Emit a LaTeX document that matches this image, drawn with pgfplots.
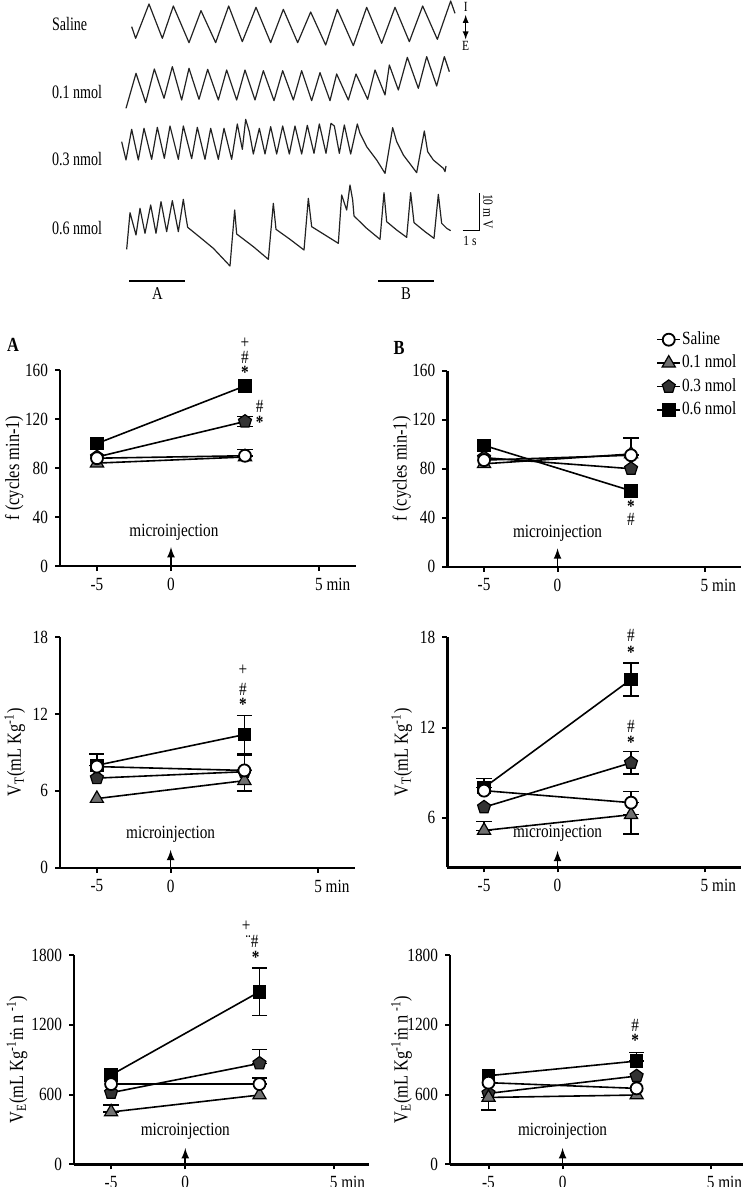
\documentclass[border=0pt]{standalone}
\usepackage{fontspec}
\setmainfont{Liberation Serif}[FakeStretch=0.82]
\usepackage{pgfplots}
\pgfplotsset{compat=1.18}

\definecolor{tri}{HTML}{707070}
\definecolor{pent}{HTML}{333333}
\definecolor{trace}{HTML}{222222}

\pgfplotsset{
  panel/.style={
    scale only axis, anchor=south west, clip=false,
    axis lines*=left,
    axis line style={line width=1.2pt},
    tick align=outside, major tick length=2.5pt,
    tick style={line width=1pt, black},
    xtick={-5,0,10}, xticklabels={-5,0,{5\rlap{\ min}}},
    xmin=-7.5, xmax=12.5,
    tick label style={font=\fontsize{9.3}{10}\selectfont},
    label style={font=\fontsize{9.3}{10}\selectfont},
    every axis plot/.append style={line width=0.8pt, black},
    error bars/error bar style={line width=0.8pt, black},
    error bars/error mark options={rotate=90, mark size=3.8pt, line width=0.8pt, black},
  },
  ylab/.style={every axis y label/.style={at={(axis description cs:#1,0.5)}, rotate=90, anchor=center}},
  sal/.style={mark=*, mark size=3pt, mark options={fill=white, draw=black, line width=0.9pt}},
  d01/.style={mark=triangle*, mark size=3.8pt, mark options={fill=tri, draw=black, line width=0.6pt}},
  d03/.style={mark=pentagon*, mark size=3.4pt, mark options={fill=pent, draw=black, line width=0.6pt}},
  d06/.style={mark=square*, mark size=3pt, mark options={fill=black, draw=black}},
  eb/.style={error bars/.cd, y dir=both, y explicit},
  tr/.style={trace, line width=0.6pt, no marks, line join=round},
}
\newcommand{\ann}{\fontsize{9.3}{10}\selectfont}

\begin{document}
\begin{tikzpicture}
\path[use as bounding box] (0,0) rectangle (374.5pt,-593.5pt);

% ---- respiratory traces (coordinates in 3x pixel units, y down)
\begin{axis}[at={(0pt,0pt)}, anchor=north west, scale only axis,
  width=374.5pt, height=150pt, xmin=0, xmax=2247, ymin=0, ymax=900,
  y dir=reverse, hide axis, clip=false]
\addplot[tr] coordinates {(395,80) (407,115) (447,12) (487,115) (520,18) (567,128) (603,32) (647,128) (686,18) (727,125) (768,22) (812,128) (850,28) (893,128) (932,36) (977,135) (1012,28) (1060,137) (1100,22) (1145,130) (1185,22) (1228,125) (1268,18) (1312,118) (1352,3) (1365,40)};
\addplot[tr] coordinates {(378,325) (408,220) (437,308) (463,207) (492,295) (517,200) (545,300) (567,205) (597,298) (623,208) (655,300) (680,210) (710,300) (735,210) (765,300) (790,212) (822,302) (848,212) (880,300) (905,212) (935,302) (960,218) (990,302) (1010,222) (1045,300) (1068,222) (1103,298) (1125,210) (1155,285) (1168,195) (1195,270) (1222,172) (1255,265) (1280,170) (1310,258) (1333,170) (1348,215)};
\addplot[tr] coordinates {(365,425) (378,480) (395,388) (415,480) (432,385) (455,478) (472,382) (493,475) (510,378) (535,478) (550,378) (575,476) (592,382) (615,478) (632,385) (655,478) (672,385) (695,478) (712,372) (727,448) (737,358) (748,395) (760,462) (778,385) (795,462) (812,380) (830,462) (848,378) (868,462) (885,378) (905,462) (922,376) (942,460) (958,372) (978,460) (993,370) (1003,378) (1018,460) (1033,375) (1052,462) (1072,372) (1080,400) (1100,440) (1130,480) (1155,520) (1178,383) (1190,425) (1210,465) (1250,518) (1273,393) (1283,455) (1300,480) (1330,505) (1335,515) (1338,498)};
\addplot[tr] coordinates {(380,748) (390,638) (408,705) (420,625) (435,700) (452,615) (468,700) (483,605) (500,695) (517,602) (535,695) (550,598) (556,640) (563,682) (600,712) (640,745) (690,798) (704,630) (710,702) (760,740) (805,778) (820,610) (828,688) (870,718) (912,750) (925,595) (935,680) (975,705) (1015,730) (1025,585) (1040,630) (1050,555) (1058,600) (1062,648) (1100,685) (1140,718) (1152,578) (1160,665) (1190,690) (1220,712) (1232,578) (1242,668) (1275,695) (1302,715) (1315,583) (1325,670) (1340,685) (1352,692)};
% scale bar and period bars
\addplot[black, line width=0.7pt, no marks] coordinates {(1388,692) (1438,692) (1438,580)};
\addplot[black, line width=1pt, no marks] coordinates {(388,842) (555,842)};
\addplot[black, line width=1pt, no marks] coordinates {(1135,842) (1302,842)};
\node[anchor=west, inner sep=0pt, font=\fontsize{9.5}{11}\selectfont\addfontfeature{FakeStretch=0.74}] at (axis cs:155,72) {Saline};
\node[anchor=west, inner sep=0pt, font=\fontsize{9.5}{11}\selectfont\addfontfeature{FakeStretch=0.74}] at (axis cs:155,275) {0.1 nmol};
\node[anchor=west, inner sep=0pt, font=\fontsize{9.5}{11}\selectfont\addfontfeature{FakeStretch=0.74}] at (axis cs:155,478) {0.3 nmol};
\node[anchor=west, inner sep=0pt, font=\fontsize{9.5}{11}\selectfont\addfontfeature{FakeStretch=0.74}] at (axis cs:155,683) {0.6 nmol};
\node[rotate=-90, anchor=south west, inner sep=1pt, font=\fontsize{7}{8}\selectfont] at (axis cs:1442,575) {10 m V};
\node[font=\fontsize{7}{8}\selectfont] at (axis cs:1410,722) {1 s};
\node[font=\fontsize{7}{8}\selectfont] at (axis cs:1397,22) {I};
\node[font=\fontsize{7}{8}\selectfont] at (axis cs:1397,138) {E};
\draw[latex-latex, line width=0.4pt] (axis cs:1397,45) -- (axis cs:1397,118);
\node[font=\fontsize{9}{10}\selectfont] at (axis cs:472,880) {A};
\node[font=\fontsize{9}{10}\selectfont] at (axis cs:1218,882) {B};
\end{axis}

\node[font=\fontsize{10}{11}\selectfont\bfseries] at (6.5pt,-172.5pt) {A};
\node[font=\fontsize{10}{11}\selectfont\bfseries] at (199.5pt,-174pt) {B};

% ---- A: frequency
\begin{axis}[panel, at={(30pt,-283pt)}, width=148pt, height=98pt,
  ymin=0, ymax=160, ytick={0,40,80,120,160}, yticklabels={0,40,80,120,160},
  ylab=-0.155, ylabel={f (cycles min-1)}]
\addplot[d06, eb] coordinates {(-5,100) (5,147)};
\addplot[d03, eb] coordinates {(-5,89) (5,118) +- (0,4)};
\addplot[d01, eb] coordinates {(-5,84) (5,89)};
\addplot[sal, eb] coordinates {(-5,88) (5,90) += (0,5) -= (0,0)};
\node[font=\ann] at (axis cs:5,182) {+};
\node[font=\ann] at (axis cs:5,170.5) {\#};
\node[font=\ann\bfseries] at (axis cs:5,158) {*};
\node[font=\ann] at (axis cs:6,130) {\#};
\node[font=\ann\bfseries] at (axis cs:6,117.5) {*};
\node[font=\ann] at (axis cs:0.2,27.8) {microinjection};
\draw[-latex, line width=0.8pt] (axis cs:0,0) -- (axis cs:0,15.5);
\end{axis}

% ---- B: frequency
\begin{axis}[panel, at={(223.65pt,-283.35pt)}, width=147pt, height=98pt,
  ymin=0, ymax=160, ytick={0,40,80,120,160}, yticklabels={0,40,80,120,160},
  ylab=-0.155, ylabel={f (cycles min-1)},
  reverse legend,
  legend style={at={(0.710,1.21)}, anchor=north west, draw=none, fill=none,
    inner sep=0pt, row sep=2pt, font=\fontsize{9.3}{10}\selectfont,
    nodes={inner sep=0.5pt, text height=6.75pt, text depth=2pt}},
  legend cell align=left,
  legend image code/.code={\draw[mark repeat=2, mark phase=2, #1] plot coordinates {(0pt,0pt) (5.75pt,0pt) (11.5pt,0pt)};}]
\addplot[d06, eb] coordinates {(-5,99) (5,62)};
\addlegendentry{0.6 nmol}
\addplot[d03, eb] coordinates {(-5,89) (5,80)};
\addlegendentry{0.3 nmol}
\addplot[d01, eb] coordinates {(-5,84) (5,92)};
\addlegendentry{0.1 nmol}
\addplot[sal, eb] coordinates {(-5,87) (5,91) += (0,14) -= (0,0)};
\addlegendentry{Saline}
\node[font=\ann\bfseries] at (axis cs:5,49) {*};
\node[font=\ann] at (axis cs:5,38.5) {\#};
\node[font=\ann] at (axis cs:0,27.3) {microinjection};
\draw[-latex, line width=0.8pt] (axis cs:0,0) -- (axis cs:0,15);
\end{axis}

% ---- A: tidal volume
\begin{axis}[panel, at={(30pt,-433.85pt)}, width=147.5pt, height=115.2pt,
  ymin=0, ymax=18, ytick={0,6,12,18}, yticklabels={0,6,12,18},
  ylab=-0.153, ylabel={V\textsubscript{T}(mL Kg\textsuperscript{-1})}]
\addplot[d06, eb] coordinates {(-5,8.0) += (0,0.9) -= (0,0) (5,10.4) += (0,1.5) -= (0,1.5)};
\addplot[d03, eb] coordinates {(-5,7.0) (5,7.5)};
\addplot[d01, eb] coordinates {(-5,5.4) (5,6.8) +- (0,0.8)};
\addplot[sal, eb] coordinates {(-5,7.9) (5,7.6) += (0,1.2) -= (0,0)};
\node[font=\ann] at (axis cs:4.9,15.4) {+};
\node[font=\ann] at (axis cs:4.9,13.9) {\#};
\node[font=\ann\bfseries] at (axis cs:4.9,12.8) {*};
\node[font=\ann] at (axis cs:0,2.6) {microinjection};
\draw[-latex, line width=0.8pt] (axis cs:0,0) -- (axis cs:0,1.4);
\end{axis}

% ---- B: tidal volume
\begin{axis}[panel, at={(223.65pt,-433.65pt)}, width=147pt, height=115pt,
  ymin=2.7, ymax=18, ytick={6,12,18}, yticklabels={6,12,18},
  ylab=-0.155, ylabel={V\textsubscript{T}(mL Kg\textsuperscript{-1})}]
\addplot[d06, eb] coordinates {(-5,8.0) += (0,0.6) -= (0,0) (5,15.2) +- (0,1.1)};
\addplot[d03, eb] coordinates {(-5,6.7) (5,9.65) +- (0,0.75)};
\addplot[d01, eb] coordinates {(-5,5.15) += (0,0.6) -= (0,0) (5,6.2) += (0,0) -= (0,1.3)};
\addplot[sal, eb] coordinates {(-5,7.8) (5,7.0) += (0,0.75) -= (0,0)};
\node[font=\ann] at (axis cs:5,18.1) {\#};
\node[font=\ann\bfseries] at (axis cs:5,17.0) {*};
\node[font=\ann] at (axis cs:5,12.05) {\#};
\node[font=\ann\bfseries] at (axis cs:5,11.0) {*};
\node[font=\ann] at (axis cs:0,4.96) {microinjection};
\draw[-latex, line width=0.8pt] (axis cs:0,2.7) -- (axis cs:0,3.8);
\end{axis}

% ---- A: minute ventilation
\begin{axis}[panel, at={(37pt,-582.15pt)}, width=147.65pt, height=104.65pt,
  xmin=-7.5, xmax=12.4,
  ymin=0, ymax=1800, ytick={0,600,1200,1800}, yticklabels={0,600,1200,1800},
  ylab=-0.193, ylabel={V\textsubscript{E}(mL Kg\textsuperscript{-1}\.m n \textsuperscript{-1})}]
\addplot[d06, eb] coordinates {(-5,768) (5,1484) +- (0,205)};
\addplot[d03, eb] coordinates {(-5,616) (5,868) += (0,120) -= (0,0)};
\addplot[d01, eb] coordinates {(-5,450) += (0,60) -= (0,0) (5,596)};
\addplot[sal, eb] coordinates {(-5,690) (5,690) += (0,50) -= (0,0)};
\node[font=\ann] at (axis cs:4.1,2049) {+};
\node[font=\ann] at (axis cs:4.5,1914) {¨\#};
\node[font=\ann\bfseries] at (axis cs:4.75,1780) {*};
\node[font=\ann] at (axis cs:0,286) {microinjection};
\draw[-latex, line width=0.8pt] (axis cs:0,0) -- (axis cs:0,140);
\end{axis}

% ---- B: minute ventilation
\begin{axis}[panel, at={(225pt,-582.15pt)}, width=146.65pt, height=104.65pt,
  xmin=-7.6, xmax=12.2,
  ymin=0, ymax=1800, ytick={0,600,1200,1800}, yticklabels={0,600,1200,1800},
  ylab=-0.165, ylabel={V\textsubscript{E}(mL Kg\textsuperscript{-1}\.m n \textsuperscript{-1})}]
\addplot[d06, eb] coordinates {(-5,762) (5,888) += (0,75) -= (0,0)};
\addplot[d03, eb] coordinates {(-5,610) (5,759)};
\addplot[d01, eb] coordinates {(-5,575) += (0,0) -= (0,110) (5,596)};
\addplot[sal, eb] coordinates {(-5,702) (5,653)};
\node[font=\ann] at (axis cs:4.9,1198) {\#};
\node[font=\ann\bfseries] at (axis cs:4.9,1069) {*};
\node[font=\ann] at (axis cs:0,286) {microinjection};
\draw[-latex, line width=0.8pt] (axis cs:0,0) -- (axis cs:0,140);
\end{axis}
\end{tikzpicture}
\end{document}
